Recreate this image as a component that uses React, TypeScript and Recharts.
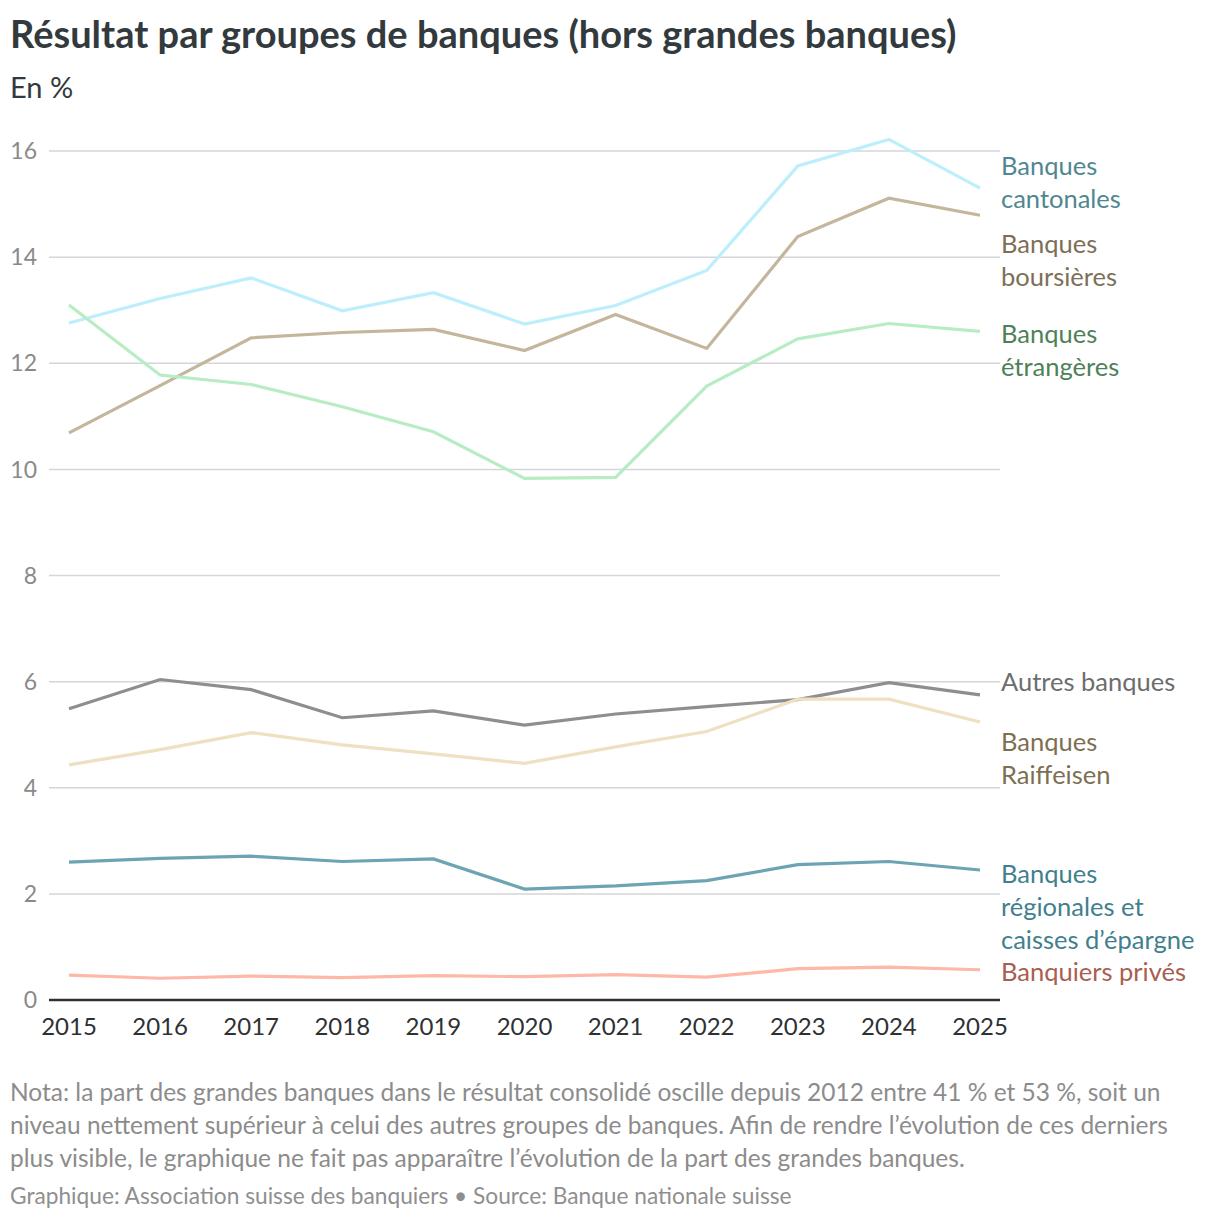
import React from 'react';
import { LineChart, Line, XAxis, YAxis, CartesianGrid } from 'recharts';

const years = ['2015', '2016', '2017', '2018', '2019', '2020', '2021', '2022', '2023', '2024', '2025'];
const cantonales = [12.76, 13.22, 13.61, 12.99, 13.33, 12.74, 13.09, 13.75, 15.72, 16.22, 15.30];
const boursieres = [10.69, 11.58, 12.48, 12.58, 12.64, 12.24, 12.92, 12.28, 14.39, 15.11, 14.79];
const etrangeres = [13.10, 11.78, 11.60, 11.18, 10.71, 9.83, 9.85, 11.57, 12.46, 12.75, 12.60];
const autres = [5.49, 6.04, 5.85, 5.32, 5.45, 5.18, 5.39, 5.53, 5.66, 5.98, 5.75];
const raiffeisen = [4.43, 4.72, 5.04, 4.81, 4.64, 4.46, 4.77, 5.06, 5.67, 5.67, 5.24];
const regionales = [2.60, 2.67, 2.71, 2.61, 2.66, 2.09, 2.15, 2.25, 2.55, 2.61, 2.45];
const prives = [0.47, 0.41, 0.45, 0.42, 0.46, 0.44, 0.48, 0.43, 0.59, 0.62, 0.57];
const yTicks = [0, 2, 4, 6, 8, 10, 12, 14, 16];

const data = years.map((year, i) => ({
  year,
  cantonales: cantonales[i],
  boursieres: boursieres[i],
  etrangeres: etrangeres[i],
  autres: autres[i],
  raiffeisen: raiffeisen[i],
  regionales: regionales[i],
  prives: prives[i],
}));

const series = [
  { key: 'cantonales', color: '#bdeefc' },
  { key: 'boursieres', color: '#c3b69c' },
  { key: 'etrangeres', color: '#b8edc4' },
  { key: 'autres', color: '#8e8e8e' },
  { key: 'raiffeisen', color: '#eee0c0' },
  { key: 'regionales', color: '#6ca4b4' },
  { key: 'prives', color: '#fdb8a8' },
];

const labels = [
  { lines: ['Banques', 'cantonales'], color: '#4f8791', top: 149 },
  { lines: ['Banques', 'boursières'], color: '#7d6f56', top: 227 },
  { lines: ['Banques', 'étrangères'], color: '#4e8157', top: 317 },
  { lines: ['Autres banques'], color: '#6d6d6d', top: 665 },
  { lines: ['Banques', 'Raiffeisen'], color: '#7d6f52', top: 725 },
  { lines: ['Banques', 'régionales et', 'caisses d’épargne'], color: '#417f8e', top: 857 },
  { lines: ['Banquiers privés'], color: '#a95e50', top: 955 },
];

const font = 'Lato, "Noto Sans", sans-serif';

export default function App() {
  return (
    <div style={{ position: 'absolute', left: 0, top: 0, width: 1220, height: 1222, background: '#fff', fontFamily: font }}>
      <div style={{ position: 'absolute', left: 10, top: 8, fontSize: 38, fontWeight: 700, color: '#333a3d', whiteSpace: 'nowrap', lineHeight: '50px' }}>
        Résultat par groupes de banques (hors grandes banques)
      </div>
      <div style={{ position: 'absolute', left: 10, top: 67, fontSize: 29, color: '#333a3d', lineHeight: '40px' }}>En %</div>
      <div style={{ position: 'absolute', left: 0, top: 0 }}>
        <LineChart width={1220} height={1060} data={data} margin={{ top: 98, right: 220, bottom: 0, left: 0 }}>
          <CartesianGrid vertical={false} syncWithTicks stroke="#d3d6da" strokeWidth={1.5} />
          <XAxis
            dataKey="year"
            padding={{ left: 20, right: 20 }}
            height={60}
            tickLine={false}
            tickSize={0}
            tickMargin={18}
            axisLine={{ stroke: '#2e3133', strokeWidth: 2.5 }}
            tick={{ fontSize: 24, fill: '#2e3133', fontFamily: font }}
            interval={0}
          />
          <YAxis
            width={49}
            domain={[0, 17]}
            ticks={yTicks}
            axisLine={false}
            tickLine={false}
            tickSize={0}
            tickMargin={12}
            tick={{ fontSize: 23, fill: '#8a8a8a', fontFamily: font }}
          />
          {series.map((s) => (
            <Line
              key={s.key}
              type="linear"
              dataKey={s.key}
              stroke={s.color}
              strokeWidth={3.2}
              dot={false}
              activeDot={false}
              isAnimationActive={false}
            />
          ))}
        </LineChart>
      </div>
      {labels.map((l, i) => (
        <div key={i} style={{ position: 'absolute', left: 1001, top: l.top, fontSize: 25.5, lineHeight: '33px', color: l.color, whiteSpace: 'nowrap' }}>
          {l.lines.map((t, j) => (
            <div key={j}>{t}</div>
          ))}
        </div>
      ))}
      <div style={{ position: 'absolute', left: 10, top: 1075, fontSize: 24.5, lineHeight: '33px', color: '#8c8c8c', whiteSpace: 'nowrap' }}>
        <div>Nota: la part des grandes banques dans le résultat consolidé oscille depuis 2012 entre 41 % et 53 %, soit un</div>
        <div>niveau nettement supérieur à celui des autres groupes de banques. Afin de rendre l’évolution de ces derniers</div>
        <div>plus visible, le graphique ne fait pas apparaître l’évolution de la part des grandes banques.</div>
      </div>
      <div style={{ position: 'absolute', left: 10, top: 1182, fontSize: 22.7, lineHeight: '28px', color: '#8f8f8f', whiteSpace: 'nowrap' }}>
        Graphique: Association suisse des banquiers • Source: Banque nationale suisse
      </div>
    </div>
  );
}
